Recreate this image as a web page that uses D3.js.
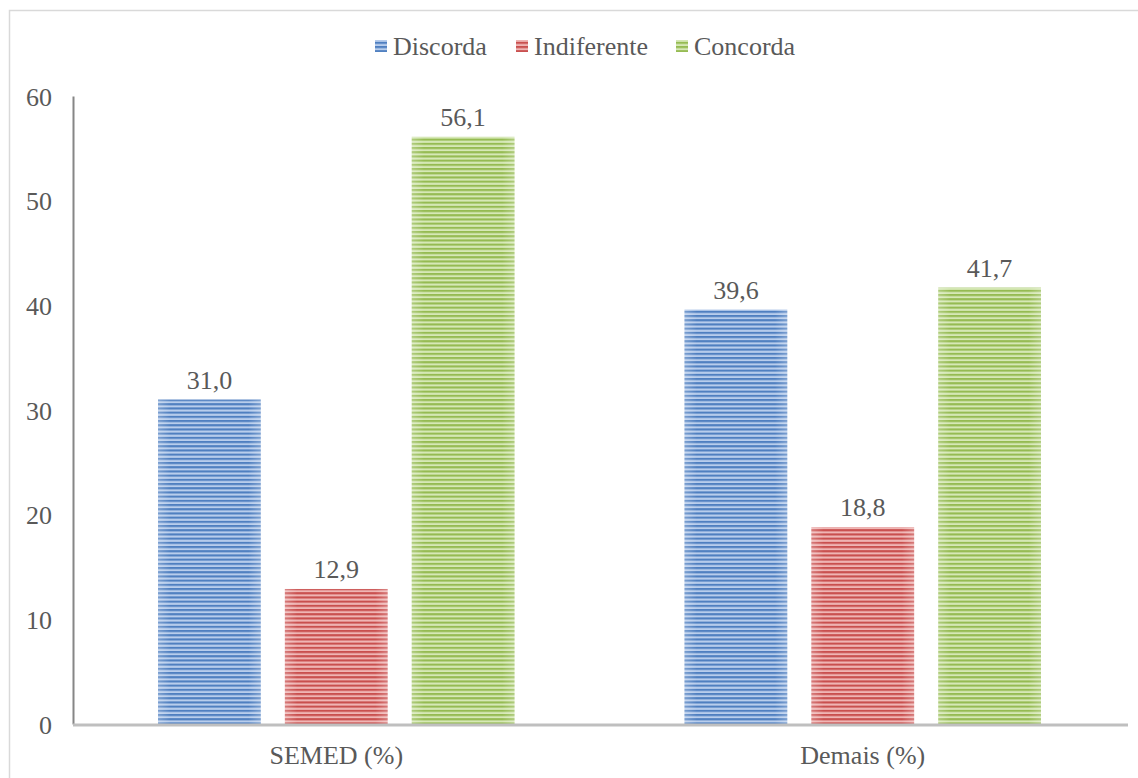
<!DOCTYPE html>
<html>
<head>
<meta charset="utf-8">
<script src="https://cdn.jsdelivr.net/npm/d3@7/dist/d3.min.js"></script>
<style>
  html, body { margin: 0; padding: 0; background: #fff; font-family: "Liberation Serif", serif; }
  #chart text { font-family: "Liberation Serif", "Times New Roman", serif; }
</style>
</head>
<body>
<svg id="chart" width="1138" height="778" font-family="Liberation Serif"></svg>
<script>
// Groups on the x axis
const categories = ["SEMED (%)", "Demais (%)"];
// Answer series, in legend order
const seriesNames = ["Discorda", "Indiferente", "Concorda"];
const discorda = [31.0, 39.6];
const indiferente = [12.9, 18.8];
const concorda = [56.1, 41.7];
const yTicks = [0, 10, 20, 30, 40, 50, 60];

const FONT = "Liberation Serif";
const TEXT = "#595959";
const FS = 26;

const seriesValues = [discorda, indiferente, concorda];
const palette = {
  Discorda:    { dark: "#4f7fc0", light: "#b8cdec" },
  Indiferente: { dark: "#c94f4e", light: "#efb5b4" },
  Concorda:    { dark: "#95bb52", light: "#d6e8b6" }
};

const svg = d3.select("#chart");
const margin = { left: 73, right: 12, top: 96, bottom: 54 };
const W = 1138, H = 778;
const x0 = margin.left, x1 = W - margin.right;
const yBase = H - margin.bottom;

// outer frame
svg.append("rect")
  .attr("x", 9.5).attr("y", 10.5)
  .attr("width", W + 10).attr("height", H)
  .attr("fill", "none").attr("stroke", "#d9d9d9").attr("stroke-width", 1.5);

// striped fills
const defs = svg.append("defs");
seriesNames.forEach((name, i) => {
  const c = palette[name];
  const p = defs.append("pattern")
    .attr("id", "stripe" + i)
    .attr("patternUnits", "userSpaceOnUse")
    .attr("width", 8).attr("height", 4.2);
  p.append("rect").attr("width", 8).attr("height", 4.2).attr("fill", c.light);
  p.append("rect").attr("width", 8).attr("height", 2.1).attr("fill", c.dark);

  const g = defs.append("linearGradient").attr("id", "edge" + i)
    .attr("x1", "0").attr("x2", "1").attr("y1", "0").attr("y2", "0");
  g.append("stop").attr("offset", "0").attr("stop-color", "#fff").attr("stop-opacity", 0.25);
  g.append("stop").attr("offset", "0.12").attr("stop-color", "#fff").attr("stop-opacity", 0);
  g.append("stop").attr("offset", "0.88").attr("stop-color", "#fff").attr("stop-opacity", 0);
  g.append("stop").attr("offset", "1").attr("stop-color", "#fff").attr("stop-opacity", 0.25);
});

const y = d3.scaleLinear().domain([0, 60]).range([yBase, margin.top]);
const xGroup = d3.scaleBand().domain(categories).range([x0, x1]);
const xSeries = d3.scaleBand().domain(seriesNames)
  .range([0, xGroup.bandwidth()]).paddingInner(0.19).paddingOuter(0.67);

// y axis
const yAxis = svg.append("g")
  .attr("transform", `translate(${x0},0)`)
  .call(d3.axisLeft(y).tickValues(yTicks).tickSize(0).tickPadding(21).tickFormat(d3.format("d")));
yAxis.attr("font-family", FONT).attr("font-size", FS);
yAxis.select(".domain").attr("stroke", "#868686").attr("stroke-width", 2);
yAxis.selectAll("text").attr("fill", TEXT).attr("dy", "0.35em");

// bars
const groups = svg.append("g").selectAll("g")
  .data(categories)
  .join("g")
  .attr("transform", d => `translate(${xGroup(d)},0)`);

const barData = (cat, ci) => seriesNames.map((s, si) => ({ s, si, v: seriesValues[si][ci] }));

groups.each(function(cat, ci) {
  const g = d3.select(this);
  const data = barData(cat, ci);
  g.selectAll("rect.bar").data(data).join("rect")
    .attr("class", "bar")
    .attr("x", d => xSeries(d.s))
    .attr("y", d => y(d.v))
    .attr("width", xSeries.bandwidth())
    .attr("height", d => yBase - y(d.v))
    .attr("fill", d => `url(#stripe${d.si})`);
  g.selectAll("rect.edge").data(data).join("rect")
    .attr("class", "edge")
    .attr("x", d => xSeries(d.s))
    .attr("y", d => y(d.v))
    .attr("width", xSeries.bandwidth())
    .attr("height", d => yBase - y(d.v))
    .attr("fill", d => `url(#edge${d.si})`);
  g.selectAll("text.val").data(data).join("text")
    .attr("class", "val")
    .attr("x", d => xSeries(d.s) + xSeries.bandwidth() / 2)
    .attr("y", d => y(d.v) - 11)
    .attr("text-anchor", "middle")
    .attr("font-family", FONT).attr("font-size", FS).attr("fill", TEXT)
    .text(d => d3.format(".1f")(d.v).replace(".", ","));
});

// x axis
svg.append("line")
  .attr("x1", x0).attr("x2", x1 + 2)
  .attr("y1", yBase + 1).attr("y2", yBase + 1)
  .attr("stroke", "#bfbfbf").attr("stroke-width", 3);
svg.append("g").selectAll("text")
  .data(categories).join("text")
  .attr("x", d => xGroup(d) + xGroup.bandwidth() / 2)
  .attr("y", yBase + 40)
  .attr("text-anchor", "middle")
  .attr("font-family", FONT).attr("font-size", FS).attr("fill", TEXT)
  .text(d => d);

// legend
const legendX = [375, 516, 676];
const legend = svg.append("g").selectAll("g")
  .data(seriesNames).join("g")
  .attr("transform", (d, i) => `translate(${legendX[i]},46)`);
legend.append("rect")
  .attr("x", 0).attr("y", -6).attr("width", 12).attr("height", 12)
  .attr("fill", (d, i) => `url(#stripe${i})`);
legend.append("text")
  .attr("x", 18).attr("y", 0).attr("dy", "0.35em")
  .attr("font-family", FONT).attr("font-size", FS).attr("fill", TEXT)
  .text(d => d);
</script>
</body>
</html>
